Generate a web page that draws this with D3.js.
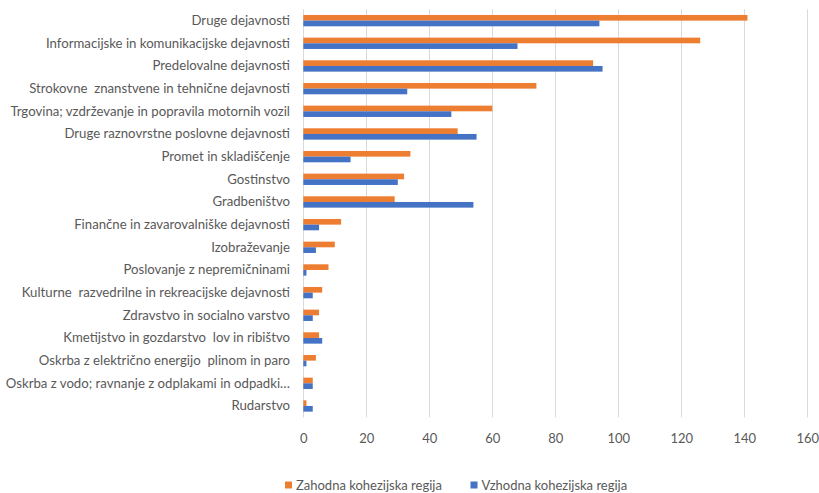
<!DOCTYPE html>
<html>
<head>
<meta charset="utf-8">
<script src="https://cdn.jsdelivr.net/npm/d3@7/dist/d3.min.js"></script>
<style>
  html, body { margin: 0; padding: 0; background: #ffffff; }
  svg { display: block; }
  text { font-family: Lato, "Open Sans", sans-serif; fill: #595959; white-space: pre; }
</style>
</head>
<body>
<svg id="chart" width="819" height="493"></svg>
<script>
// Activity sectors, listed top to bottom
const categories = [
  "Druge dejavnosti",
  "Informacijske in komunikacijske dejavnosti",
  "Predelovalne dejavnosti",
  "Strokovne  znanstvene in tehnične dejavnosti",
  "Trgovina; vzdrževanje in popravila motornih vozil",
  "Druge raznovrstne poslovne dejavnosti",
  "Promet in skladiščenje",
  "Gostinstvo",
  "Gradbeništvo",
  "Finančne in zavarovalniške dejavnosti",
  "Izobraževanje",
  "Poslovanje z nepremičninami",
  "Kulturne  razvedrilne in rekreacijske dejavnosti",
  "Zdravstvo in socialno varstvo",
  "Kmetijstvo in gozdarstvo  lov in ribištvo",
  "Oskrba z električno energijo  plinom in paro",
  "Oskrba z vodo; ravnanje z odplakami in odpadki…",
  "Rudarstvo"
];

const seriesNames = ["Zahodna kohezijska regija", "Vzhodna kohezijska regija"];
const zahodna = [141, 126, 92, 74, 60, 49, 34, 32, 29, 12, 10, 8, 6, 5, 5, 4, 3, 1];
const vzhodna = [94, 68, 95, 33, 47, 55, 15, 30, 54, 5, 4, 1, 3, 3, 6, 1, 3, 3];
const xTicks = [0, 20, 40, 60, 80, 100, 120, 140, 160];

const colors = ["#ED7D31", "#4472C4"];
const seriesValues = [zahodna, vzhodna];

const svg = d3.select("#chart");
const plot = { left: 303.3, right: 807.3, top: 9.3, bottom: 417.3 };

const x = d3.scaleLinear().domain([0, 160]).range([plot.left, plot.right]);
const y = d3.scaleBand()
  .domain(categories)
  .range([plot.top, plot.bottom])
  .paddingInner(0.5)
  .paddingOuter(0.25);
const ySub = d3.scaleBand()
  .domain(d3.range(seriesNames.length))
  .range([0, y.bandwidth()]);

// vertical gridlines
svg.append("g")
  .selectAll("line")
  .data(xTicks)
  .join("line")
  .attr("x1", d => Math.round(x(d)) + 0.5)
  .attr("x2", d => Math.round(x(d)) + 0.5)
  .attr("y1", plot.top)
  .attr("y2", plot.bottom)
  .attr("stroke", "#d9d9d9")
  .attr("stroke-width", 1);

// x axis tick labels
const xAxis = d3.axisBottom(x).tickValues(xTicks).tickSize(0).tickPadding(0);
const gx = svg.append("g")
  .attr("transform", `translate(0, ${438})`)
  .call(xAxis);
gx.select(".domain").remove();
gx.selectAll("text")
  .attr("dy", "0.35em")
  .attr("y", 0)
  .style("font-size", "13px")
  .style("font-family", "Lato, sans-serif")
  .attr("fill", "#595959");

// category labels
const yAxis = d3.axisLeft(y).tickSize(0).tickPadding(0);
const gy = svg.append("g")
  .attr("transform", `translate(${290}, 0)`)
  .call(yAxis);
gy.select(".domain").remove();
gy.selectAll("text")
  .style("font-size", "13.2px")
  .style("font-family", "Lato, sans-serif")
  .attr("fill", "#595959");

// bars
const groups = svg.append("g")
  .selectAll("g")
  .data(categories)
  .join("g")
  .attr("transform", d => `translate(0, ${y(d)})`);

groups.selectAll("rect")
  .data((d, i) => seriesValues.map((vals, s) => ({ s, v: vals[i] })))
  .join("rect")
  .attr("x", x(0))
  .attr("y", d => ySub(d.s))
  .attr("width", d => x(d.v) - x(0))
  .attr("height", ySub.bandwidth())
  .attr("fill", d => colors[d.s]);

// legend
const legendItems = [
  { name: seriesNames[0], color: colors[0], x: 285 },
  { name: seriesNames[1], color: colors[1], x: 470.5 }
];
const legend = svg.append("g").selectAll("g")
  .data(legendItems)
  .join("g")
  .attr("transform", d => `translate(${d.x}, 485)`);
legend.append("rect")
  .attr("x", 0).attr("y", -3.5)
  .attr("width", 7).attr("height", 7)
  .attr("fill", d => d.color);
legend.append("text")
  .attr("x", 11).attr("dy", "0.35em")
  .style("font-size", "13px")
  .text(d => d.name);
</script>
</body>
</html>
